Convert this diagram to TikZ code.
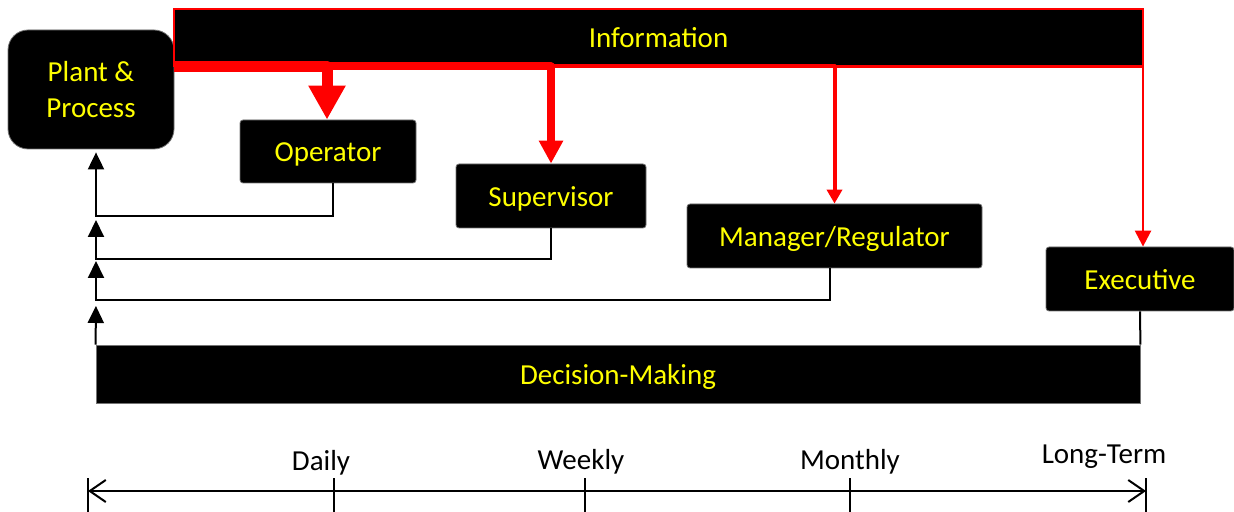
\documentclass[tikz,border=0pt]{standalone}
\usepackage{fontspec}
\setmainfont{Carlito}
\usepackage{tikz}
\usetikzlibrary{
  arrows.meta, positioning, calc
}
\usepackage{xcolor}
\definecolor{infored}{RGB}{255, 0, 0}
\definecolor{roleyellow}{RGB}{255, 255, 0}

\tikzset{
  levelbox/.style={draw=black!55, fill=black, rounded corners=1.5pt,
                   text=roleyellow, inner sep=0pt, align=center,
                   font=\fontsize{14.5}{18}\selectfont},
  rolebox/.style={levelbox, text height=12pt, text depth=1.5pt},
  infoflow/.style={draw=infored, line join=round},
  feedback/.style={draw=black, line width=1pt,
                   -{Triangle[width=8pt,length=8.5pt]}},
  timelabel/.style={font=\fontsize{14.5}{18}\selectfont, inner sep=0pt,
                    text height=10.5pt, text depth=3pt}
}

\begin{document}
\begin{tikzpicture}[x=0.5pt, y=-0.5pt]
        \useasboundingbox (0,0) rectangle (1234,512);

        % levels
        \node[levelbox, rounded corners=10pt, minimum width=83pt, minimum height=59.5pt]
          (plant) at (91,89.5) {Plant \&\\Process};
        \node[rolebox, draw=infored, line width=0.75pt, rounded corners=0pt,
              minimum width=484.5pt, minimum height=28.5pt]
          (info) at (658.5,37.5) {Information};
        \node[rolebox, minimum width=88pt, minimum height=31.5pt]
          (oper) at (328,151.5) {Operator};
        \node[rolebox, minimum width=95pt, minimum height=32pt]
          (super) at (551,196) {Supervisor};
        \node[rolebox, minimum width=147.5pt, minimum height=32pt]
          (manager) at (834.5,236) {Manager/Regulator};
        \node[rolebox, minimum width=94pt, minimum height=32pt]
          (exec) at (1140,279) {Executive};
        \node[rolebox, rounded corners=0pt, minimum width=522pt, minimum height=29pt]
          (decide) at (618,374) {Decision-Making};

        % information flow
        \coordinate (src) at (174,66.5);
        \draw[infoflow, line width=1.25pt, -{Triangle[width=8pt,length=8pt]}]
          (src) -| ([xshift=1.5pt]exec.north);
        \draw[infoflow, line width=2pt, -{Triangle[width=7.5pt,length=7pt]}]
          (src) -| (manager.north);
        \draw[infoflow, line width=4pt, -{Triangle[width=11.5pt,length=11.5pt]}]
          (src) -| (super.north);
        \draw[infoflow, line width=5.5pt, -{Triangle[width=17.5pt,length=17pt]}]
          (src) -| ([xshift=-0.5pt]oper.north);

        % decisions back to the plant
        \coordinate (ret1) at (96,216);
        \coordinate (ret2) at (96,259);
        \coordinate (ret3) at (96,300);
        \draw[feedback, shorten >=1.5pt] ([xshift=2.5pt]oper.south) |- (ret1) -- (plant.south -| ret1);
        \draw[feedback, shorten >=2pt] (super.south) |- (ret2) -- (ret1);
        \draw[feedback, shorten >=1pt] ([xshift=-2.5pt]manager.south) |- (ret3) -- (ret2);
        \draw[feedback, -, line width=1pt] (exec.south) -- (decide.north east);
        \draw[feedback, shorten >=3pt] (decide.north west) -- (ret3);

        % time scale
        \coordinate (tstart) at (88,491);
        \coordinate (tend) at (1146,491);
        \draw[line width=1pt, {Straight Barb[length=8pt,width=11pt]}-{Straight Barb[length=8pt,width=11pt]}]
          (tstart) -- (tend);
        \foreach \x in {88,334,585,850,1146}
          \draw[line width=1pt] (\x,478) -- (\x,512);
        \node[timelabel] (daily) at (321,463) {Daily};
        \node[timelabel] (weekly) at (581,462) {Weekly};
        \node[timelabel] (monthly) at (850,462) {Monthly};
        \node[timelabel] (longterm) at (1104,456) {Long-Term};
      \end{tikzpicture}
\end{document}
